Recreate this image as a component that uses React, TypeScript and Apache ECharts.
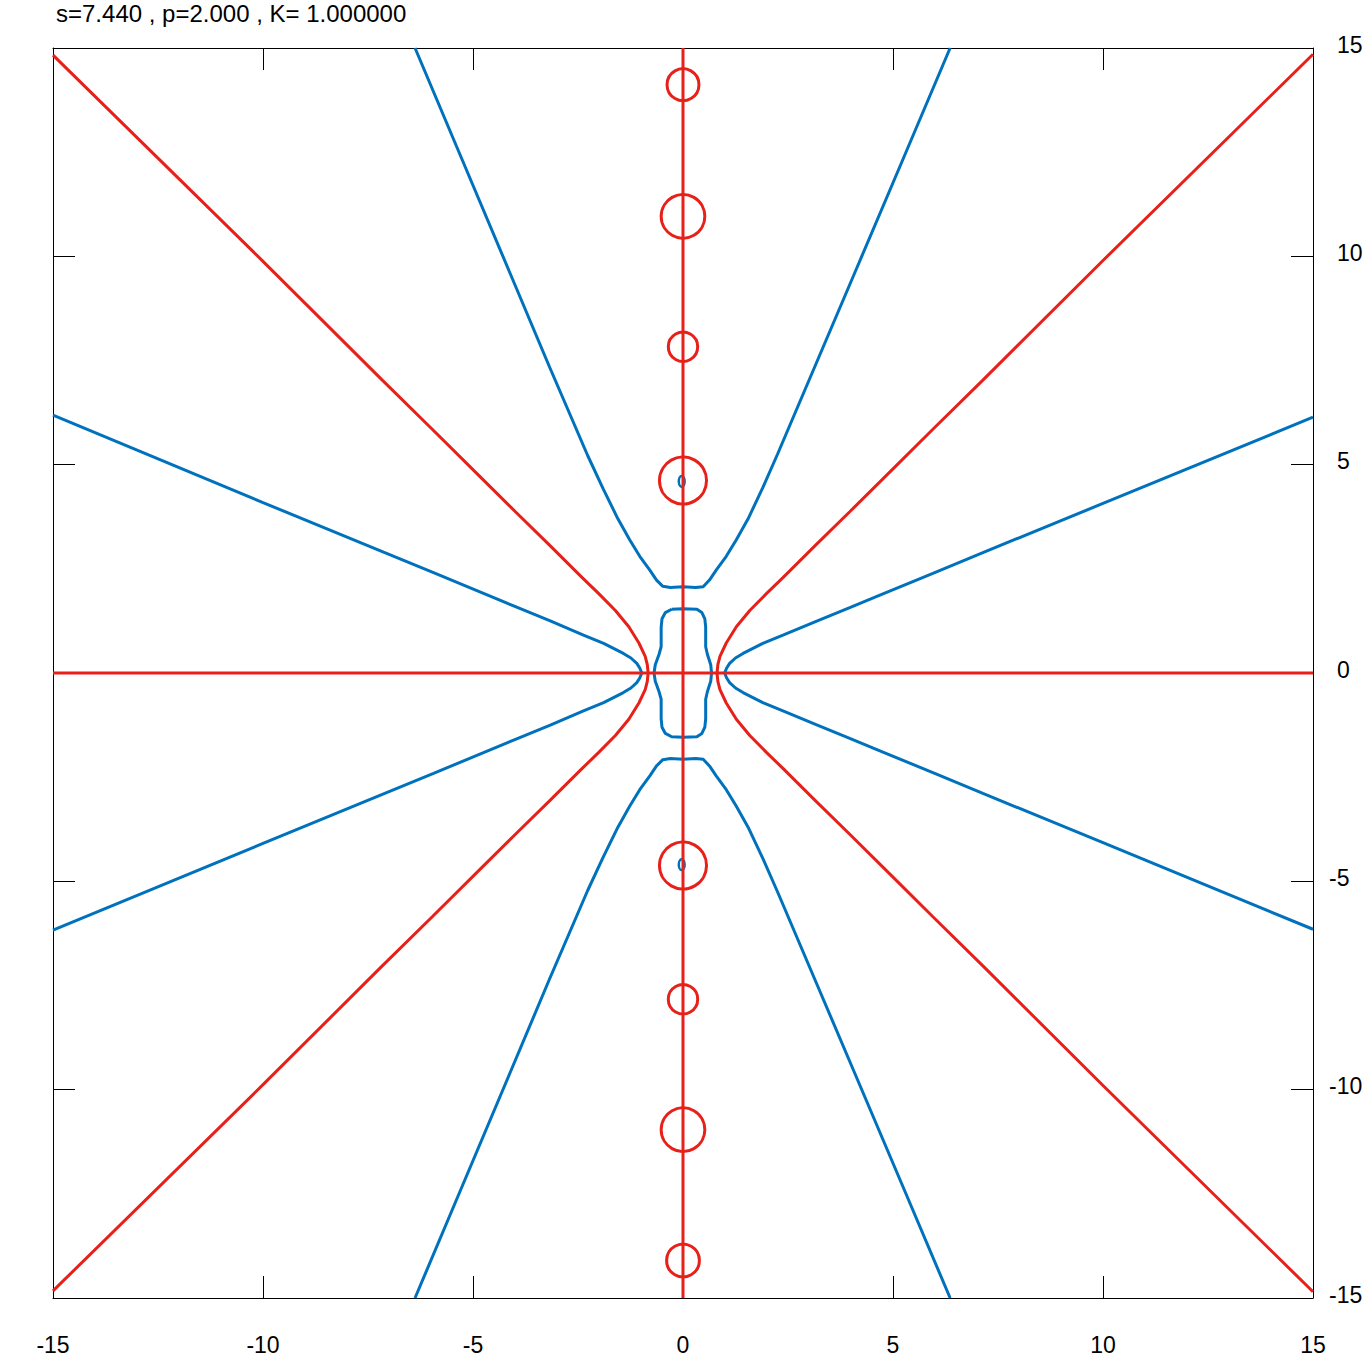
import React, { useEffect, useRef } from "react";
import * as echarts from "echarts";

const TITLE = "s=7.440 , p=2.000 , K= 1.000000";
const AXIS_MIN = -15;
const AXIS_MAX = 15;
const AXIS_STEP = 5;

const RED = "#e8201a";
const BLUE = "#0072bd";

// red (Im = 0) curves
const redHorizontal = [[-15, 0], [15, 0]];
const redVertical = [[0, -15], [0, 15]];
const redUpperRight = [[0.81, 0], [0.83, 0.2], [0.88, 0.4], [1.03, 0.72], [1.27, 1.11], [1.59, 1.5], [1.98, 1.9], [2.38, 2.29], [3.17, 3.08], [3.97, 3.87], [4.76, 4.66], [5.95, 5.85], [7.14, 7.03], [10.0, 9.9], [15.0, 14.85]];
const redLowerRight = [[0.81, 0], [0.83, -0.2], [0.88, -0.4], [1.03, -0.72], [1.27, -1.11], [1.59, -1.5], [1.98, -1.9], [2.38, -2.29], [3.17, -3.08], [3.97, -3.87], [4.76, -4.66], [5.95, -5.85], [7.14, -7.03], [10.0, -9.9], [15.0, -14.85]];
const redUpperLeft = [[-0.83, 0], [-0.85, 0.2], [-0.9, 0.4], [-1.05, 0.72], [-1.29, 1.11], [-1.61, 1.5], [-2.0, 1.9], [-2.4, 2.29], [-3.19, 3.08], [-3.99, 3.87], [-4.78, 4.66], [-5.97, 5.85], [-7.16, 7.03], [-10.0, 9.88], [-15.0, 14.83]];
const redLowerLeft = [[-0.83, 0], [-0.85, -0.2], [-0.9, -0.4], [-1.05, -0.72], [-1.29, -1.11], [-1.61, -1.5], [-2.0, -1.9], [-2.4, -2.29], [-3.19, -3.08], [-3.99, -3.87], [-4.78, -4.66], [-5.97, -5.85], [-7.16, -7.03], [-10.0, -9.88], [-15.0, -14.83]];

// red small loops on the imaginary axis: centre y and radius
const loopY = [14.12, 10.96, 7.83, 4.62, -4.62, -7.83, -10.96, -14.1];
const loopR = [0.38, 0.52, 0.35, 0.56, 0.56, 0.35, 0.52, 0.39];

// blue (Re = 0) curves
const blueRightUpper = [[0.99, 0], [1.04, 0.12], [1.11, 0.23], [1.25, 0.36], [1.43, 0.47], [1.9, 0.71], [2.38, 0.91], [3.17, 1.24], [3.97, 1.57], [4.76, 1.9], [5.95, 2.39], [7.14, 2.89], [10.0, 4.07], [15.0, 6.14]];
const blueRightLower = [[0.99, 0], [1.04, -0.12], [1.11, -0.23], [1.25, -0.36], [1.43, -0.47], [1.9, -0.71], [2.38, -0.91], [3.17, -1.24], [3.97, -1.57], [4.76, -1.9], [5.95, -2.39], [7.14, -2.89], [10.0, -4.07], [15.0, -6.15]];
const blueLeftUpper = [[-0.98, 0], [-1.03, 0.12], [-1.1, 0.23], [-1.24, 0.36], [-1.42, 0.47], [-1.89, 0.71], [-2.37, 0.91], [-3.16, 1.25], [-3.96, 1.58], [-4.75, 1.91], [-5.94, 2.41], [-7.13, 2.9], [-10.0, 4.09], [-15.0, 6.19]];
const blueLeftLower = [[-0.98, 0], [-1.03, -0.12], [-1.1, -0.23], [-1.24, -0.36], [-1.42, -0.47], [-1.89, -0.71], [-2.37, -0.91], [-3.16, -1.25], [-3.96, -1.58], [-4.75, -1.91], [-5.94, -2.41], [-7.13, -2.9], [-10.0, -4.09], [-15.0, -6.17]];
const blueUpperU = [[-6.38, 15.0], [-5.25, 12.3], [-4.12, 9.6], [-3.18, 7.35], [-2.27, 5.22], [-1.9, 4.42], [-1.55, 3.7], [-1.27, 3.2], [-1.03, 2.8], [-0.79, 2.47], [-0.63, 2.23], [-0.48, 2.08], [-0.3, 2.05], [0, 2.07], [0.3, 2.05], [0.48, 2.07], [0.63, 2.23], [0.79, 2.47], [1.03, 2.8], [1.27, 3.2], [1.55, 3.7], [1.9, 4.45], [2.25, 5.25], [3.15, 7.38], [4.1, 9.63], [5.2, 12.24], [6.36, 15.0]];
const blueLowerU = [[-6.38, -15.0], [-5.25, -12.3], [-4.12, -9.6], [-3.18, -7.35], [-2.27, -5.22], [-1.9, -4.42], [-1.55, -3.7], [-1.27, -3.2], [-1.03, -2.8], [-0.79, -2.47], [-0.63, -2.23], [-0.48, -2.08], [-0.3, -2.05], [0, -2.07], [0.3, -2.05], [0.48, -2.07], [0.63, -2.23], [0.79, -2.47], [1.03, -2.8], [1.27, -3.2], [1.55, -3.7], [1.9, -4.45], [2.25, -5.25], [3.15, -7.38], [4.1, -9.63], [5.2, -12.24], [6.36, -15.0]];
const blueInner = [[-0.27, 1.53], [0, 1.54], [0.33, 1.53], [0.45, 1.45], [0.52, 1.3], [0.54, 1.1], [0.54, 0.63], [0.58, 0.45], [0.66, 0.2], [0.68, 0], [0.66, -0.2], [0.58, -0.45], [0.54, -0.63], [0.54, -1.1], [0.52, -1.3], [0.45, -1.45], [0.33, -1.53], [0, -1.54], [-0.27, -1.53], [-0.42, -1.45], [-0.5, -1.3], [-0.52, -1.1], [-0.52, -0.63], [-0.57, -0.45], [-0.66, -0.2], [-0.69, 0], [-0.66, 0.2], [-0.57, 0.45], [-0.52, 0.63], [-0.52, 1.1], [-0.5, 1.3], [-0.42, 1.45], [-0.27, 1.53]];

// tiny blue ovals: centre x, centre y, half-width, half-height
const ovalX = [-0.03, -0.03];
const ovalY = [4.6, -4.6];
const ovalRx = [0.07, 0.07];
const ovalRy = [0.13, 0.13];

const FONT = "Liberation Sans, Arial, sans-serif";

function lineSeries(data: number[][], color: string) {
  return {
    type: "line",
    data,
    xAxisIndex: 0,
    yAxisIndex: 0,
    showSymbol: false,
    symbol: "none",
    smooth: false,
    lineStyle: { color, width: 3 },
    z: color === RED ? 3 : 2,
    silent: true,
  };
}

export default function App() {
  const ref = useRef<HTMLDivElement>(null);
  useEffect(() => {
    document.body.style.margin = "0";
    const chart = echarts.init(ref.current!, null, { renderer: "svg" });
    const axisCommon = {
      type: "value",
      min: AXIS_MIN,
      max: AXIS_MAX,
      interval: AXIS_STEP,
      axisLine: { show: true, onZero: false, lineStyle: { color: "#000", width: 1 } },
      axisTick: { show: true, inside: true, length: 22, lineStyle: { color: "#000", width: 1 } },
      splitLine: { show: false },
    };
    const loopData = loopY.map((y, i) => [0, y, loopR[i]]);
    const ovalData = ovalX.map((x, i) => [x, ovalY[i], ovalRx[i], ovalRy[i]]);
    chart.setOption({
      animation: false,
      backgroundColor: "#fff",
      title: {
        text: TITLE,
        left: 51,
        top: -4,
        textStyle: { fontSize: 24, fontWeight: "normal", color: "#000", fontFamily: FONT },
      },
      grid: { left: 53, right: 53, top: 48, bottom: 68, containLabel: false },
      xAxis: [
        {
          ...axisCommon,
          position: "bottom",
          axisLabel: { show: true, margin: 35, fontSize: 23, color: "#000", fontFamily: FONT, showMinLabel: true, showMaxLabel: true },
        },
        { ...axisCommon, position: "top", axisLabel: { show: false } },
      ],
      yAxis: [
        { ...axisCommon, position: "left", axisLabel: { show: false } },
        {
          ...axisCommon,
          position: "right",
          axisLabel: {
            show: true,
            margin: 16,
            align: "left",
            showMinLabel: true,
            showMaxLabel: true,
            formatter: (v: number) => (v < 0 ? `{n|${v}}` : `{p|${v}}`),
            rich: {
              n: { fontSize: 23, color: "#000", fontFamily: FONT, padding: [0, 0, 7, 0] },
              p: { fontSize: 23, color: "#000", fontFamily: FONT, padding: [0, 0, 7, 8] },
            },
          },
        },
      ],
      series: [
        lineSeries(blueUpperU, BLUE),
        lineSeries(blueLowerU, BLUE),
        lineSeries(blueRightUpper, BLUE),
        lineSeries(blueRightLower, BLUE),
        lineSeries(blueLeftUpper, BLUE),
        lineSeries(blueLeftLower, BLUE),
        lineSeries(blueInner, BLUE),
        {
          type: "custom",
          xAxisIndex: 0,
          yAxisIndex: 0,
          data: ovalData,
          z: 2,
          silent: true,
          renderItem: (params: any, api: any) => {
            const c = api.coord([api.value(0), api.value(1)]);
            const s = api.size([api.value(2), api.value(3)]);
            return {
              type: "ellipse",
              shape: { cx: c[0], cy: c[1], rx: s[0], ry: s[1] },
              style: { fill: "none", stroke: BLUE, lineWidth: 2.5 },
            };
          },
        },
        lineSeries(redHorizontal, RED),
        lineSeries(redVertical, RED),
        lineSeries(redUpperRight, RED),
        lineSeries(redLowerRight, RED),
        lineSeries(redUpperLeft, RED),
        lineSeries(redLowerLeft, RED),
        {
          type: "custom",
          xAxisIndex: 0,
          yAxisIndex: 0,
          data: loopData,
          z: 3,
          silent: true,
          renderItem: (params: any, api: any) => {
            const c = api.coord([api.value(0), api.value(1)]);
            const s = api.size([api.value(2), api.value(2)]);
            return {
              type: "circle",
              shape: { cx: c[0], cy: c[1], r: s[0] },
              style: { fill: "none", stroke: RED, lineWidth: 3 },
            };
          },
        },
      ],
    });
    return () => chart.dispose();
  }, []);
  return <div ref={ref} style={{ width: 1366, height: 1366 }} />;
}
